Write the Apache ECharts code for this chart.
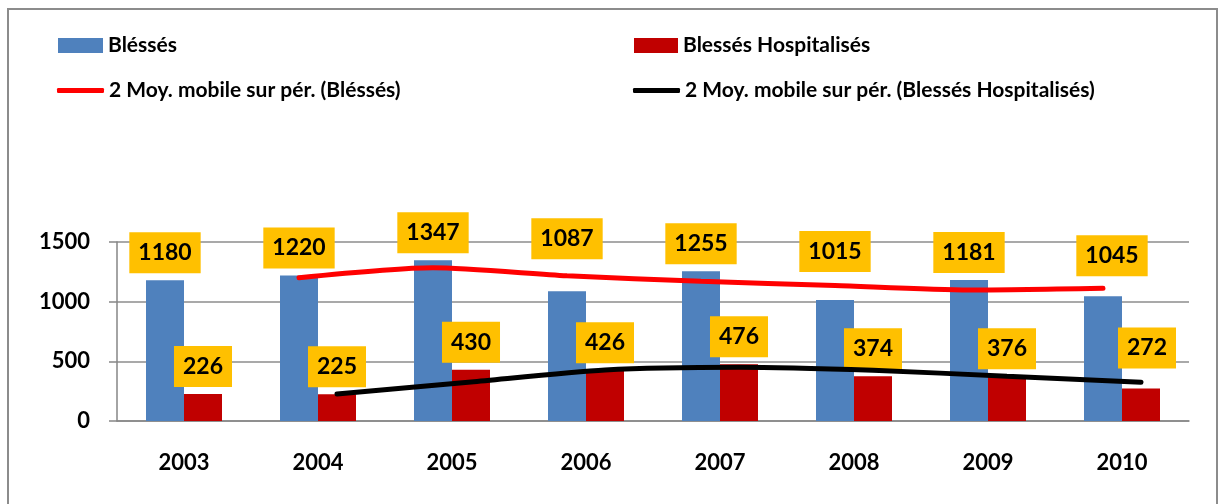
<!DOCTYPE html>
<html>
<head>
<meta charset="utf-8">
<script src="https://cdn.jsdelivr.net/npm/echarts@6/dist/echarts.min.js"></script>
<style>
  html, body { margin: 0; padding: 0; background: #fff; }
  #chart { width: 1218px; height: 504px; }
</style>
</head>
<body>
<div id="chart"></div>
<script>
// années (catégories)
const years = ['2003', '2004', '2005', '2006', '2007', '2008', '2009', '2010']
// Bléssés
const blesses = [1180, 1220, 1347, 1087, 1255, 1015, 1181, 1045]
// Blessés Hospitalisés
const hospitalises = [226, 225, 430, 426, 476, 374, 376, 272]
// moyennes mobiles sur 2 périodes, de 2004 à 2010
const moyBlesses = [1200, 1283.5, 1217, 1171, 1135, 1098, 1113]
const moyHospitalises = [225.5, 327.5, 428, 451, 425, 375, 324]
const yTicks = [0, 500, 1000, 1500]

// étiquettes déplacées à la main dans l'original (px)
const liftBlesses = [0, 0, 0, 25, 0, 21, 0, 13]
const shiftBlesses = [0, 0, 0, 0, 0, 0, 0, 9]
const liftHosp = [0, 0, 0, 0, 0, 0, 0, 13]
const shiftHosp = [0, 0, 0, 0, 0, 0, 0, 6]

const FONT = 'Lato'
const gridLeft = 117
const gridRight = 29
const plotWidth = 1218 - gridLeft - gridRight
const catWidth = plotWidth / years.length
const barWidth = 38
// les moyennes mobiles sont posées au centre de la barre de leur série
const half = (barWidth / 2) / catWidth

const labelStyle = {
  show: true,
  position: 'top',
  distance: 7,
  backgroundColor: '#FFC000',
  color: '#000',
  fontFamily: FONT,
  fontWeight: 'bold',
  fontSize: 23,
  lineHeight: 23,
  padding: [9, 9, 9, 9]
}

function barData (values, lift, shift) {
  return values.map((v, i) => ({
    value: v,
    label: { offset: [shift[i], -lift[i]] }
  }))
}

function lineData (values, side) {
  // premier point = 2004
  return values.map((v, i) => [i + 1 + 0.5 + side * half, v])
}

const chart = echarts.init(document.getElementById('chart'))

const legendText = { fontFamily: FONT, fontWeight: 'bold', fontSize: 21, color: '#000' }

const option = {
  animation: false,
  backgroundColor: '#fff',
  graphic: [
    {
      type: 'rect',
      shape: { x: 8, y: 9, width: 1209, height: 505 },
      style: { fill: 'none', stroke: '#8c8c8c', lineWidth: 2 },
      silent: true
    }
  ],
  legend: [
    { data: ['Bléssés'], left: 53, top: 30, icon: 'rect', itemWidth: 45, itemHeight: 15, textStyle: legendText },
    { data: ['Blessés Hospitalisés'], left: 629, top: 30, icon: 'rect', itemWidth: 44, itemHeight: 15, textStyle: legendText },
    { data: ['2 Moy. mobile sur pér. (Bléssés)'], left: 52, top: 75, icon: 'roundRect', itemWidth: 47, itemHeight: 5, textStyle: legendText },
    { data: ['2 Moy. mobile sur pér. (Blessés Hospitalisés)'], left: 628, top: 75, icon: 'roundRect', itemWidth: 47, itemHeight: 5, textStyle: legendText }
  ],
  grid: { left: gridLeft, right: gridRight, top: 242, bottom: 83 },
  xAxis: [
    {
      type: 'category',
      data: years,
      axisLine: { lineStyle: { color: '#868686', width: 1.5 } },
      axisTick: { length: 8, lineStyle: { color: '#868686', width: 1.5 } },
      axisLabel: { color: '#000', fontFamily: FONT, fontWeight: 'bold', fontSize: 22, margin: 31 }
    },
    {
      type: 'value',
      min: 0,
      max: years.length,
      show: false
    }
  ],
  yAxis: {
    type: 'value',
    min: yTicks[0],
    max: yTicks[yTicks.length - 1],
    interval: yTicks[1] - yTicks[0],
    axisLine: { show: true, lineStyle: { color: '#868686', width: 1.5 } },
    axisTick: { show: true, length: 8, lineStyle: { color: '#868686', width: 1.5 } },
    axisLabel: {
      color: '#000',
      fontFamily: FONT,
      fontWeight: 'bold',
      fontSize: 22,
      margin: 27,
      formatter: v => String(v)
    },
    splitLine: { lineStyle: { color: '#8c8c8c', width: 1.5 } }
  },
  series: [
    {
      name: 'Bléssés',
      type: 'bar',
      barWidth: barWidth,
      barGap: '0%',
      itemStyle: { color: '#4F81BD' },
      label: labelStyle,
      data: barData(blesses, liftBlesses, shiftBlesses)
    },
    {
      name: 'Blessés Hospitalisés',
      type: 'bar',
      barWidth: barWidth,
      barGap: '0%',
      itemStyle: { color: '#C00000' },
      label: labelStyle,
      data: barData(hospitalises, liftHosp, shiftHosp)
    },
    {
      name: '2 Moy. mobile sur pér. (Bléssés)',
      type: 'line',
      xAxisIndex: 1,
      smooth: 0.25,
      symbol: 'none',
      itemStyle: { color: '#FF0000' },
      lineStyle: { color: '#FF0000', width: 5, cap: 'round' },
      z: 3,
      data: lineData(moyBlesses, -1)
    },
    {
      name: '2 Moy. mobile sur pér. (Blessés Hospitalisés)',
      type: 'line',
      xAxisIndex: 1,
      smooth: 0.25,
      symbol: 'none',
      itemStyle: { color: '#000' },
      lineStyle: { color: '#000', width: 5, cap: 'round' },
      z: 3,
      data: lineData(moyHospitalises, 1)
    }
  ]
}

chart.setOption(option)
</script>
</body>
</html>
